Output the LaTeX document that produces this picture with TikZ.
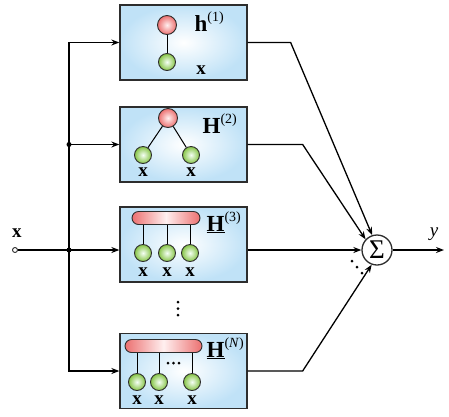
\documentclass[tikz,border=0pt]{standalone}
\usepackage{fontspec}
\setmainfont{Liberation Serif}
\usetikzlibrary{arrows.meta,positioning,calc}
\definecolor{boxblue}{RGB}{192,226,247}
\definecolor{edgegray}{RGB}{45,45,45}
\definecolor{redball}{RGB}{236,112,112}
\definecolor{greenball}{RGB}{134,196,70}
\newcommand{\kerlab}[2]{#1\raisebox{0.42em}{\fontsize{14}{14}\selectfont(#2)}}

\begin{document}
\begin{tikzpicture}[x=1pt,y=-1pt,line width=1.3pt,
  arr/.style={-{Stealth[length=8pt,width=6pt]}},
  kernelbox/.style={draw=edgegray,inner color=white,outer color=boxblue,
    minimum width=127pt,minimum height=75pt,inner sep=0pt},
  rednode/.style={circle,draw=edgegray,line width=0.9pt,inner color=red!6,
    outer color=redball,minimum size=19pt,inner sep=0pt},
  greennode/.style={circle,draw=edgegray,line width=0.9pt,inner color=green!4,
    outer color=greenball,minimum size=17pt,inner sep=0pt},
  barnode/.style={draw=edgegray,line width=0.9pt,rounded corners=6.5pt,
    left color=redball,right color=redball,middle color=red!6,
    minimum height=13pt,inner sep=0pt},
  xlab/.style={font=\fontsize{19}{19}\selectfont\bfseries,inner sep=0pt,anchor=base},
  hlab/.style={font=\fontsize{23}{23}\selectfont,inner sep=0pt,anchor=base west},
  smalldot/.style={circle,fill=black,inner sep=0pt,minimum size=3pt},
  joindot/.style={circle,fill=black,inner sep=0pt,minimum size=5pt}]
\useasboundingbox (0,0) rectangle (449,416);

\node[kernelbox] (k1) at (183.5,42.5) {};
\node[kernelbox] (k2) at (183.5,144.5) {};
\node[kernelbox] (k3) at (183.5,244.5) {};
\node[kernelbox] (kN) at (183.5,371) {};

\node[rednode] (r1) at (167,25) {};
\node[greennode] (g1) at (167,62) {};
\draw[line width=1pt] (r1) -- (g1);
\node[hlab] (l1) at (194,31) {\kerlab{\textbf{h}}{1}};
\node[xlab] at (201,74) {x};

\node[rednode] (r2) at (168,118) {};
\node[greennode] (g2a) at (143,155) {};
\node[greennode] (g2b) at (191,155) {};
\draw[line width=1pt] (r2) -- (g2a) (r2) -- (g2b);
\node[hlab] (l2) at (202,133) {\kerlab{\textbf{H}}{2}};
\node[xlab] at (143,176) {x};
\node[xlab] at (191,176) {x};

\node[barnode,minimum width=68pt] (bar3) at (166,218) {};
\node[greennode] (g3a) at (143,253) {};
\node[greennode] (g3b) at (167,253) {};
\node[greennode] (g3c) at (190,253) {};
\foreach \g in {g3a,g3b,g3c}
  \draw[line width=1pt] (\g) -- (\g |- bar3.south);
\node[hlab] (l3) at (206,231) {\kerlab{\underline{\textbf{H}}}{3}};
\foreach \xx in {143,167,190}
  \node[xlab] at (\xx,276) {x};

\node[smalldot] at (178,302) {};
\node[smalldot] at (178,308.5) {};
\node[smalldot] at (178,315) {};

\node[barnode,minimum width=77pt] (barN) at (163.5,346) {};
\node[greennode] (gNa) at (137,382) {};
\node[greennode] (gNb) at (159,382) {};
\node[greennode] (gNc) at (192,382) {};
\foreach \g in {gNa,gNb,gNc}
  \draw[line width=1pt] (\g) -- (\g |- barN.south);
\node[smalldot] at (168,363) {};
\node[smalldot] at (173.5,363) {};
\node[smalldot] at (179,363) {};
\node[hlab] (lN) at (206,357) {\kerlab{\underline{\textbf{H}}}{\textit{N}}};
\foreach \xx in {137,159,192}
  \node[xlab] at (\xx,404) {x};

\node[circle,draw=edgegray,fill=white,line width=0.9pt,minimum size=5pt,inner sep=0pt] (in) at (15,250) {};
\node[xlab] at (17,237) {x};
\coordinate (j) at (69,250);
\draw[arr] (in) -- (k3.west |- in);
\draw[arr] (j) |- (k1.west);
\draw[arr] (j) |- (k2.west);
\draw[arr] (j) |- (kN.west);
\node[joindot] at (j) {};
\node[joindot] at (j |- k2.west) {};

\node[circle,draw=edgegray,minimum size=30pt,inner sep=0pt,
  font=\fontsize{27}{27}\selectfont] (sum) at (377,250) {Σ};
\coordinate (out) at (444,250);
\draw[arr] (k1.east) -- ++(43,0) -- (sum.108);
\draw[arr] (k2.east) -- ++(55,0) -- (sum.137);
\draw[arr] (k3.east |- sum) -- (sum);
\draw[arr] (kN.east) -- ++(55,0) -- (sum.250);
\draw[arr] (sum) -- (out);
\node[font=\fontsize{19}{19}\selectfont\itshape,inner sep=0pt,anchor=base] at (434,236) {y};
\node[smalldot] at (352,261) {};
\node[smalldot] at (357,267) {};
\node[smalldot] at (362,273) {};
\end{tikzpicture}
\end{document}
